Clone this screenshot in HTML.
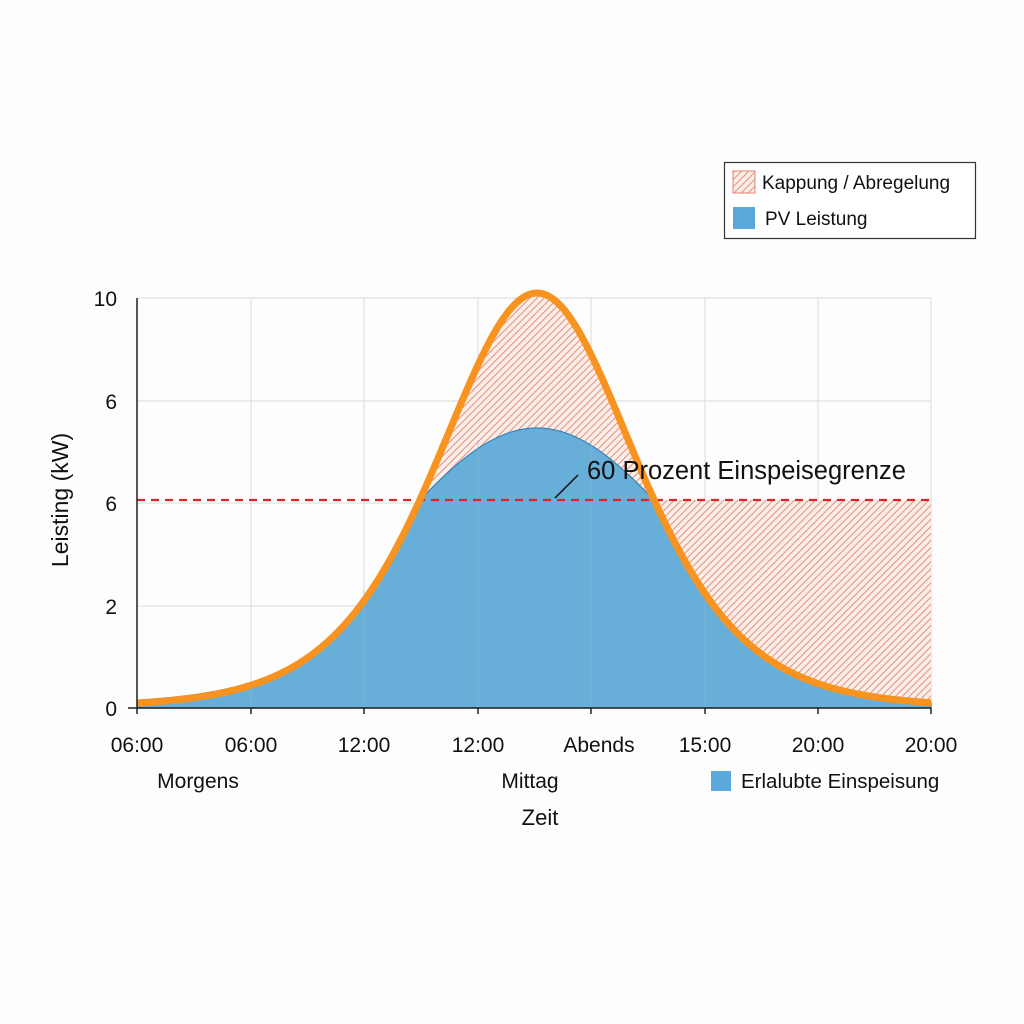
<!DOCTYPE html>
<html><head><meta charset="utf-8"><style>
html,body{margin:0;padding:0;background:#fdfdfd;}
svg{display:block;font-family:"Liberation Sans",sans-serif;}
</style></head><body>
<svg id="s" width="1024" height="1024" viewBox="0 0 1024 1024">
<defs>
<pattern id="h" patternUnits="userSpaceOnUse" width="5" height="5" patternTransform="rotate(45)">
<rect width="5" height="5" fill="#fbeee9"/>
<line x1="0" y1="0" x2="0" y2="5" stroke="#e2836f" stroke-width="1.8"/>
</pattern>
</defs>
<rect width="1024" height="1024" fill="#fdfdfd"/>
<g stroke="#dcdcdc" stroke-width="1">
<line x1="137" y1="298" x2="931" y2="298"/><line x1="137" y1="401" x2="931" y2="401"/>
<line x1="137" y1="503" x2="931" y2="503"/><line x1="137" y1="606" x2="931" y2="606"/>
<line x1="251" y1="298" x2="251" y2="708"/><line x1="364" y1="298" x2="364" y2="708"/>
<line x1="478" y1="298" x2="478" y2="708"/><line x1="591" y1="298" x2="591" y2="708"/>
<line x1="705" y1="298" x2="705" y2="708"/><line x1="818" y1="298" x2="818" y2="708"/>
<line x1="931" y1="298" x2="931" y2="708"/>
</g>
<path id="hatch" fill="url(#h)"/>
<path id="blue" fill="#67aed9" stroke="#3a85b8" stroke-width="1.2"/>
<g stroke="#8ab4d0" stroke-width="1" opacity="0.6">
<line x1="251" y1="690" x2="251" y2="708"/><line x1="364" y1="590" x2="364" y2="708"/>
<line x1="478" y1="440" x2="478" y2="708"/><line x1="591" y1="440" x2="591" y2="708"/>
<line x1="705" y1="600" x2="705" y2="708"/>
</g>
<line x1="137" y1="500" x2="931" y2="500" stroke="#d9252c" stroke-width="2.2" stroke-dasharray="8,6"/>
<path id="orange" fill="none" stroke="#f7931e" stroke-width="7" stroke-linejoin="round"/>
<line x1="137" y1="298" x2="137" y2="714" stroke="#222" stroke-width="1.5"/>
<line x1="128" y1="708" x2="931" y2="708" stroke="#222" stroke-width="1.5"/>
<g stroke="#222" stroke-width="1.5">
<line x1="251" y1="708" x2="251" y2="714"/><line x1="364" y1="708" x2="364" y2="714"/>
<line x1="478" y1="708" x2="478" y2="714"/><line x1="591" y1="708" x2="591" y2="714"/>
<line x1="705" y1="708" x2="705" y2="714"/><line x1="818" y1="708" x2="818" y2="714"/>
<line x1="931" y1="708" x2="931" y2="714"/>
</g>
<line x1="555" y1="498" x2="578" y2="475" stroke="#111" stroke-width="1.5"/>
<text x="587" y="479" font-size="25.5" fill="#111">60 Prozent Einspeisegrenze</text>
<g font-size="21" fill="#111" text-anchor="end">
<text x="117" y="306">10</text><text x="117" y="409">6</text><text x="117" y="511">6</text>
<text x="117" y="614">2</text><text x="117" y="716">0</text>
</g>
<text transform="translate(68,500) rotate(-90)" font-size="23" fill="#111" text-anchor="middle">Leisting (kW)</text>
<g font-size="21" fill="#111" text-anchor="middle">
<text x="137" y="752">06:00</text><text x="251" y="752">06:00</text><text x="364" y="752">12:00</text>
<text x="478" y="752">12:00</text><text x="599" y="752">Abends</text><text x="705" y="752">15:00</text>
<text x="818" y="752">20:00</text><text x="931" y="752">20:00</text>
<text x="198" y="788">Morgens</text><text x="530" y="788">Mittag</text>
<text x="540" y="825" font-size="22">Zeit</text>
</g>
<rect x="711" y="771" width="20" height="20" fill="#5aa8dc"/>
<text x="741" y="788" font-size="20.5" fill="#111">Erlalubte Einspeisung</text>
<rect x="724.5" y="162.5" width="251" height="76" fill="#fff" stroke="#333" stroke-width="1.2"/>
<rect x="733" y="171" width="22" height="22" fill="url(#h)" stroke="#e2836f" stroke-width="1"/>
<text x="762" y="189" font-size="19" fill="#111">Kappung / Abregelung</text>
<rect x="733" y="207" width="22" height="22" fill="#5aa8dc"/>
<text x="765" y="225" font-size="19" fill="#111">PV Leistung</text>
</svg>
<script>
var B=703,C=537;
function ho(x){var d=x-C;var c=Math.cosh(d/133);return Math.max(0,410*(1/(c*c)-0.01)/0.99);}
function hb(x){var d=x-C;var o=ho(x);if(x>650)return o;var w=275*Math.exp(-d*d/(2*150*150));var l=o+(x<C?3:0);return Math.min(l,w);}
var o="",b="M137,708",h="M418,708";
for(var x=137;x<=931;x+=2){var yo=B-ho(x);o+=(x==137?"M":"L")+x+","+yo.toFixed(1);b+="L"+x+","+(B-hb(x)).toFixed(1);
if(x>=418)h+="L"+x+","+Math.min(yo,500).toFixed(1);}
b+="L931,708Z";h+="L931,708Z";
document.getElementById("orange").setAttribute("d",o);
document.getElementById("blue").setAttribute("d",b);
document.getElementById("hatch").setAttribute("d",h);
</script>
</body></html>
